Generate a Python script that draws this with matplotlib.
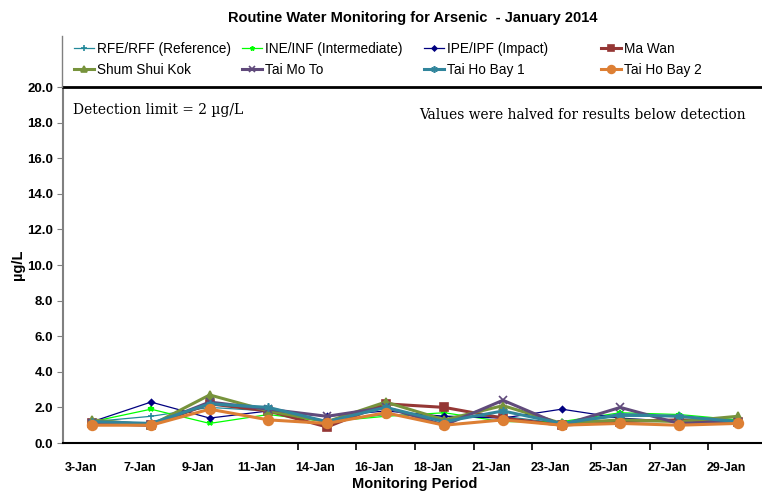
import numpy as np
import matplotlib
matplotlib.use("Agg")
import matplotlib.pyplot as plt
from matplotlib.lines import Line2D

plt.rcParams['font.family'] = ['Liberation Sans', 'DejaVu Sans']

dates = ["3-Jan", "7-Jan", "9-Jan", "11-Jan", "14-Jan", "16-Jan",
         "18-Jan", "21-Jan", "23-Jan", "25-Jan", "27-Jan", "29-Jan"]

rfe = [1.2, 1.5, 2.0, 1.8, 1.2, 1.6, 1.5, 1.5, 1.1, 1.5, 1.5, 1.3]
ine = [1.2, 1.9, 1.1, 1.6, 1.2, 1.5, 1.7, 1.2, 1.2, 1.7, 1.6, 1.3]
ipe = [1.2, 2.3, 1.4, 1.8, 1.5, 1.8, 1.5, 1.4, 1.9, 1.4, 1.2, 1.2]
ma_wan = [1.1, 1.0, 2.2, 1.8, 0.9, 2.2, 2.0, 1.4, 1.0, 1.2, 1.3, 1.2]
shum_shui_kok = [1.3, 1.0, 2.7, 1.8, 1.2, 2.3, 1.3, 2.1, 1.1, 1.3, 1.2, 1.5]
tai_mo_to = [1.1, 1.0, 2.3, 1.9, 1.5, 2.0, 1.0, 2.4, 1.0, 2.0, 1.1, 1.2]
tai_ho_bay_1 = [1.2, 1.1, 2.2, 2.0, 1.2, 2.0, 1.2, 1.8, 1.1, 1.6, 1.5, 1.2]
tai_ho_bay_2 = [1.0, 1.0, 1.9, 1.3, 1.1, 1.7, 1.0, 1.3, 1.0, 1.1, 1.0, 1.1]

series = [
    ("RFE/RFF (Reference)", rfe, "#23899a", "+", 0.9, 5),
    ("INE/INF (Intermediate)", ine, "#00ff00", "*", 0.9, 4),
    ("IPE/IPF (Impact)", ipe, "#000080", "D", 0.9, 3),
    ("Ma Wan", ma_wan, "#953735", "s", 2.2, 6),
    ("Shum Shui Kok", shum_shui_kok, "#77933c", "^", 2.2, 6),
    ("Tai Mo To", tai_mo_to, "#604a7b", "x", 2.2, 6),
    ("Tai Ho Bay 1", tai_ho_bay_1, "#31859c", (6, 2, 0), 2.2, 6),
    ("Tai Ho Bay 2", tai_ho_bay_2, "#dd7f34", "o", 2.2, 7),
]

fig = plt.figure(figsize=(7.62, 4.95), dpi=100)
ax = fig.add_axes([63 / 762, 1 - 443 / 495, 704 / 762, 356 / 495])

x = np.arange(len(dates))
handles = []
for name, vals, col, mk, lw, ms in series:
    h, = ax.plot(x, vals, color=col, marker=mk, lw=lw, ms=ms,
                 markeredgecolor=col, markeredgewidth=1.2, label=name)
    handles.append(h)

ax.set_xlim(-0.5, len(dates) - 0.5)
ax.set_ylim(0, 20)
ax.set_yticks(np.arange(0, 20.1, 2))
ax.set_yticklabels(["%.1f" % v for v in np.arange(0, 20.1, 2)],
                   fontsize=9.5, fontweight='bold')
# category labels sit a little left of their points, as in the original
ax.set_xticks(x - 0.2)
ax.set_xticklabels(dates, fontsize=9, fontweight='bold')
ax.set_xticks(np.arange(3.5, len(dates) - 1, 1), minor=True)
ax.tick_params(axis='x', which='major', length=0, pad=14)
ax.tick_params(axis='x', which='minor', length=5, direction='out', width=1.2)
ax.tick_params(axis='y', length=4, color='#808080', direction='out', pad=3)

ax.spines['left'].set_color('#808080')
ax.spines['left'].set_linewidth(1.5)
ax.spines['bottom'].set_linewidth(1.5)
ax.spines['top'].set_linewidth(2)
ax.spines['right'].set_visible(False)

ax.set_ylabel("µg/L", fontsize=10.5, fontweight='bold', labelpad=2)
ax.set_xlabel("Monitoring Period", fontsize=10.5, fontweight='bold', labelpad=2)

ax.text(0.014, 0.955, "Detection limit = 2 µg/L", transform=ax.transAxes,
        fontsize=10, family='DejaVu Serif', va='top', ha='left')
ax.text(0.97, 0.94, "Values were halved for results below detection",
        transform=ax.transAxes, fontsize=9.9, family='DejaVu Serif',
        va='top', ha='right')

fig.text(413 / 762, 1 - 18 / 495, "Routine Water Monitoring for Arsenic  - January 2014",
         fontsize=10.5, fontweight='bold', ha='center', va='center')

# legend area above the plot: only its left edge shows
fig.add_artist(Line2D([62 / 762, 62 / 762], [1 - 87 / 495, 1 - 36 / 495],
                      transform=fig.transFigure, color='#808080', lw=1))
col_x = [64, 232, 414, 591]
for i in range(4):
    fig.legend(handles=[handles[i], handles[i + 4]], loc='upper left',
               bbox_to_anchor=(col_x[i] / 762, 1 - 32 / 495),
               frameon=False, fontsize=9.8, handlelength=1.5,
               handletextpad=0.2, labelspacing=0.55, borderpad=0.2,
               markerscale=0.8)

fig.savefig("out.png", dpi=100)
